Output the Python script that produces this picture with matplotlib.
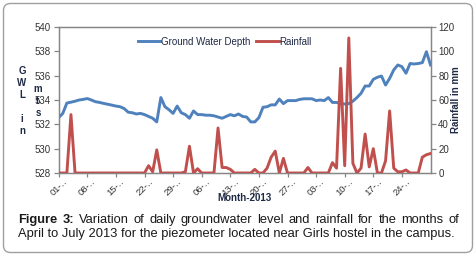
import matplotlib
matplotlib.use('Agg')
import matplotlib.pyplot as plt
from matplotlib import font_manager as fm
from matplotlib.patches import FancyBboxPatch
from matplotlib.transforms import IdentityTransform, ScaledTranslation
import numpy as np

# ---------------- data ----------------
days = list(range(92))  # 01-Apr-2013 .. 01-Jul-2013
gwl = [532.55, 532.9, 533.75, 533.82, 533.9, 534.0, 534.05, 534.12, 534.0, 533.86,
       533.8, 533.72, 533.65, 533.58, 533.5, 533.45, 533.3, 533.0, 532.95, 532.85,
       532.9, 532.8, 532.65, 532.5, 532.2, 534.2, 533.45, 533.2, 532.9, 533.5,
       532.95, 532.8, 532.5, 533.1, 532.8, 532.8, 532.75, 532.75, 532.7, 532.6,
       532.5, 532.65, 532.8, 532.7, 532.85, 532.65, 532.6, 532.2, 532.2, 532.55,
       533.4, 533.45, 533.6, 533.6, 534.08, 533.7, 533.95, 533.95, 533.95, 534.05,
       534.1, 534.1, 534.1, 533.95, 534.0, 533.95, 534.2, 533.8, 533.8, 533.7,
       533.67, 533.7, 533.9, 534.2, 534.55, 535.15, 535.15, 535.7, 535.87, 535.97,
       535.23, 535.78, 536.47, 536.88, 536.74, 536.2, 537.0, 536.96, 537.0, 537.07,
       537.97, 536.88]
rain = [0, 0, 0, 48, 0, 0, 0, 0, 0, 0,
        0, 0, 0, 0, 0, 0, 0, 0, 0, 0,
        0, 0, 6, 1, 19, 0, 0, 0, 0, 0,
        0, 1, 22, 0, 3.5, 0, 0, 0, 0, 37,
        4.5, 4.5, 3, 0, 0, 0, 0, 0, 3, 0,
        0, 4, 13, 18, 0, 12, 0, 0, 0, 0,
        0, 4.5, 0, 0, 0, 0, 0, 8.5, 4, 86,
        6, 111, 8, 0, 4, 32, 5, 20, 0, 0,
        10, 51, 4, 1, 1, 2.5, 0, 0, 0, 13,
        15, 16]
tick_days = [0, 7, 14, 21, 28, 35, 42, 49, 56, 63, 70, 77, 84]
tick_labels = ['01-\u2025', '08-\u2025', '15-\u2025', '22-\u2025', '29-\u2025', '06-\u2025',
               '13-\u2025', '20-\u2025', '27-\u2025', '03-\u2025', '10-\u2025', '17-\u2025', '24-\u2025']
gwl_ticks = [528, 530, 532, 534, 536, 538, 540]
rain_ticks = [0, 20, 40, 60, 80, 100, 120]
series_names = ['Ground Water Depth', 'Rainfall']
caption_line1 = 'Figure 3: Variation of daily groundwater level and rainfall for the months of'
caption_line2 = 'April to July 2013 for the piezometer located near Girls hostel in the campus.'

# ---------------- style ----------------
plt.rcParams['font.family'] = ['Liberation Sans', 'DejaVu Sans']
W, H = 476, 256
BLUE = '#4F81BD'
RED = '#C0504D'
AX_GRAY = '#868686'
TXT = '#1f2a44'

fig = plt.figure(figsize=(W / 100, H / 100), dpi=100)
fig.patch.set_facecolor('white')

# outer rounded frame
frame = FancyBboxPatch((3.5, 3.5), 469, 249, boxstyle='round,pad=0,rounding_size=7',
                       transform=IdentityTransform(), facecolor='none',
                       edgecolor='#a0a0a0', linewidth=1.0, zorder=-5)
fig.patches.append(frame)

L, R, T, B = 58.7, 430.5, 27, 173
ax = fig.add_axes([L / W, 1 - B / H, (R - L) / W, (B - T) / H])
ax.patch.set_alpha(0)
ax2 = ax.twinx()

l1, = ax.plot(days, gwl, color=BLUE, lw=2.1, solid_joinstyle='round', zorder=3)
l2, = ax2.plot(days, rain, color=RED, lw=2.1, solid_joinstyle='round', zorder=3)

ax.set_xlim(0, 91)
ax.set_ylim(528, 540)
ax2.set_ylim(0, 120)
ax.set_yticks(gwl_ticks)
ax2.set_yticks(rain_ticks)
ax.set_xticks(tick_days)
ax.set_xticklabels(tick_labels, rotation=45, ha='center', va='top')
offset = ScaledTranslation(5 / 100, 0, fig.dpi_scale_trans)
for lab in ax.get_xticklabels():
    lab.set_transform(lab.get_transform() + offset)

for a in (ax, ax2):
    for s in a.spines.values():
        s.set_color(AX_GRAY)
        s.set_linewidth(0.9)
    a.tick_params(colors=AX_GRAY, labelcolor='#333333', labelsize=7, width=0.9, length=3.5)
ax.tick_params(axis='x', length=3, pad=0, labelsize=6.8)
ax.tick_params(axis='y', pad=2)
ax2.tick_params(axis='y', pad=2)

# legend
leg = ax2.legend([l1, l2], series_names, loc='center', bbox_to_anchor=(0.447, 0.9),
                 ncol=2, frameon=False, fontsize=7, handlelength=2.3, handletextpad=0.1,
                 columnspacing=0.6, labelcolor=TXT)
leg.set_zorder(5)

# axis labels
fig.text(22 / W, 1 - 101.5 / H, 'G\nW\nL\n\ni\nn', ha='center', va='center',
         fontsize=7, fontweight='bold', color=TXT, linespacing=1.25)
fig.text(38 / W, 1 - 101.5 / H, 'm\nt\ns', ha='center', va='center',
         fontsize=7, fontweight='bold', color=TXT, linespacing=1.25)
fig.text(456 / W, 1 - 100 / H, 'Rainfall in mm', rotation=90, ha='center', va='center',
         fontsize=7, fontweight='bold', color=TXT)
fig.text(245 / W, 1 - 198 / H, 'Month-2013', ha='center', va='center',
         fontsize=7, fontweight='bold', color=TXT)

# caption (justified first line)
avail = {f.name for f in fm.fontManager.ttflist}
cap_family = ['Liberation Sans Narrow', 'Liberation Sans', 'DejaVu Sans'] \
    if 'Liberation Sans Narrow' in avail else ['Liberation Sans', 'DejaVu Sans']
renderer = fig.canvas.get_renderer()
probe = fig.text(0, 0, caption_line2, fontsize=10, family=cap_family)
w10 = probe.get_window_extent(renderer).width
probe.remove()
cap_fs = 10 * 437 / w10
CAP_COL = '#1a1a1a'

fig.text(18 / W, 1 - 236.7 / H, caption_line2, fontsize=cap_fs, family=cap_family,
         va='baseline', ha='left', color=CAP_COL)

words = caption_line1.split(' ')
objs = []
for i, wd in enumerate(words):
    bold = i < 2
    t = fig.text(0, 1 - 222.7 / H, wd, fontsize=cap_fs, family=cap_family, va='baseline',
                 ha='left', color=CAP_COL, fontweight='bold' if bold else 'normal')
    objs.append(t)
widths = [o.get_window_extent(renderer).width for o in objs]
gap = (441 - sum(widths)) / (len(words) - 1)
x = 18.0
for o, wdt in zip(objs, widths):
    o.set_x(x / W)
    x += wdt + gap

fig.savefig('out.png', dpi=100, facecolor='white')
